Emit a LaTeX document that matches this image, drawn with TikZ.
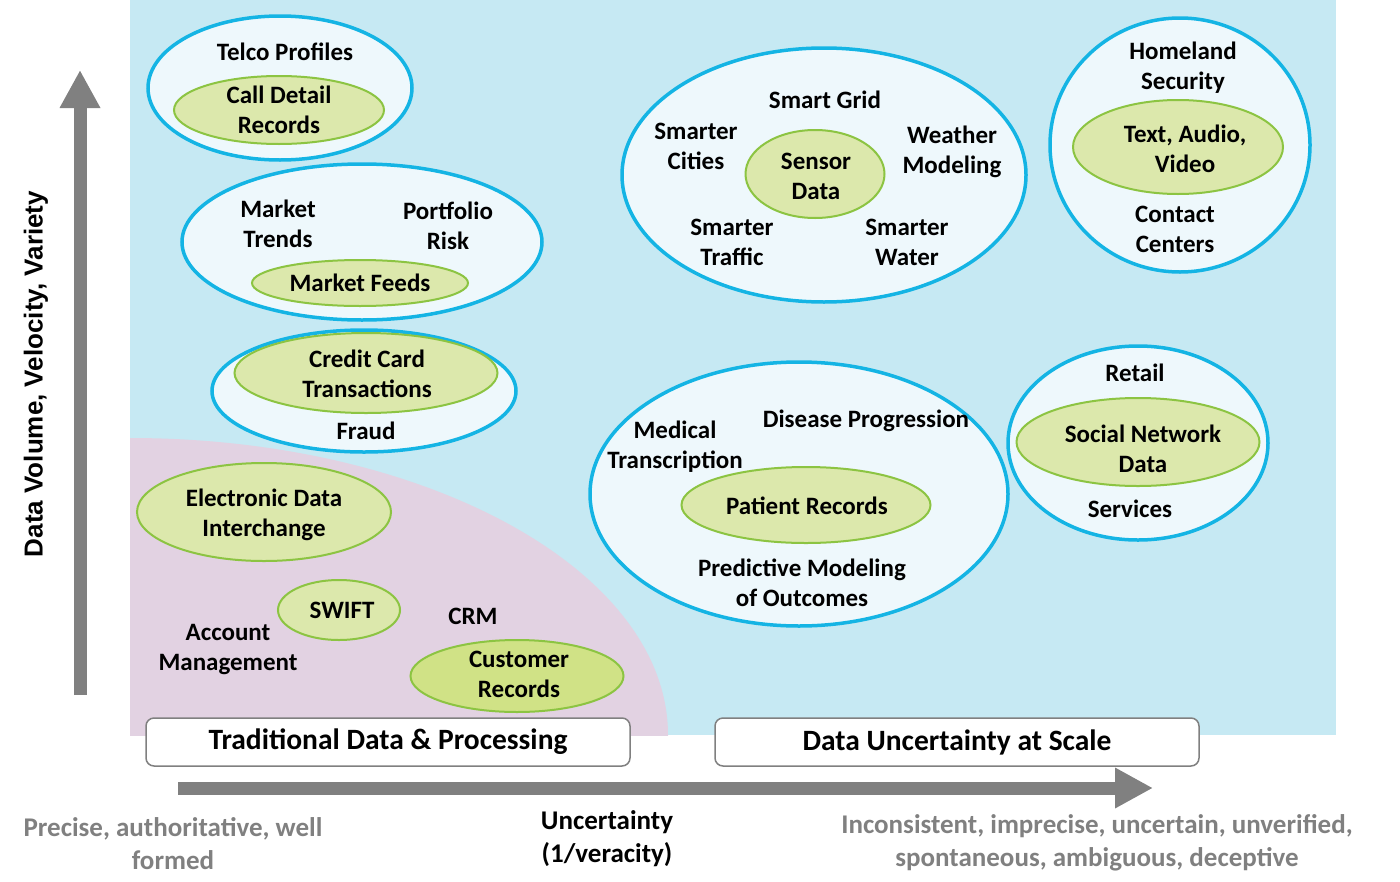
\documentclass[tikz,border=0pt]{standalone}
\usepackage{fontspec}
\setmainfont{Carlito}
\newfontfamily\axisfont{Liberation Sans}
\usetikzlibrary{arrows.meta, shapes.geometric}

\definecolor{skybg}{RGB}{198,233,243}
\definecolor{pinkbg}{RGB}{226,210,226}
\definecolor{zoneblue}{RGB}{20,180,228}
\definecolor{zonefill}{RGB}{238,248,252}
\definecolor{coregreen}{RGB}{140,196,66}
\definecolor{corefill}{RGB}{220,232,172}
\definecolor{corefilldark}{RGB}{208,226,134}
\definecolor{axisgray}{RGB}{128,128,128}

\begin{document}
\begin{tikzpicture}[
                x=1pt, y=-1pt,
                font=\fontsize{25}{30}\selectfont\bfseries,
                zone/.style={ellipse, draw=zoneblue, line width=3.5pt, fill=zonefill, inner sep=0pt},
                core/.style={ellipse, draw=coregreen, line width=2pt, fill=corefill, inner sep=0pt},
                lbl/.style={align=center, inner sep=0pt},
                band/.style={draw=axisgray, line width=1.5pt, rounded corners=8pt, fill=white, minimum width=484pt, minimum height=48pt, font=\fontsize{29.5}{34}\selectfont\bfseries},
                axis/.style={axisgray, line width=13pt, -{Triangle[length=38pt, width=38pt]}},
                note/.style={align=center, inner sep=0pt, text=axisgray, font=\fontsize{27}{33}\selectfont\bfseries}
            ]
                \useasboundingbox (0,0) rectangle (1400,881);
                % backgrounds
                \fill[skybg] (130,0) rectangle (1336,735);
                \begin{scope}
                    \clip (130,0) rectangle (1336,735);
                    \fill[pinkbg] (130,735) ellipse [x radius=538, y radius=297];
                \end{scope}

                % axes
                \coordinate (ylow) at (80,695);
                \coordinate (yhigh) at (80,70);
                \coordinate (xlow) at (178,788);
                \coordinate (xhigh) at (1153,788);
                \draw[axis] (ylow) -- (yhigh);
                \draw[axis] (xlow) -- (xhigh);
                \node[rotate=90, font=\axisfont\fontsize{26}{30}\selectfont\bfseries] (ylabel) at (36,374) {Data Volume, Velocity, Variety};

                % telco
                \node[zone, minimum width=264pt, minimum height=144pt] (telco) at (280,88) {};
                \node[core, minimum width=210pt, minimum height=68pt] (cdr) at (279,110) {};
                \node[lbl] (telcolbl) at (285,52) {Telco Profiles};
                \node[lbl] (cdrlbl) at (cdr) {Call Detail\\Records};

                % market
                \node[zone, minimum width=360pt, minimum height=156pt] (market) at (362,242) {};
                \node[core, minimum width=216pt, minimum height=46pt] (feeds) at (360,283) {};
                \node[lbl] (trends) at (278,224) {Market\\Trends};
                \node[lbl] (risk) at (448,226) {Portfolio\\Risk};
                \node[lbl] (feedslbl) at (feeds) {Market Feeds};

                % fraud
                \node[zone, minimum width=304pt, minimum height=122pt] (fraud) at (364,391) {};
                \node[core, minimum width=263pt, minimum height=80pt] (credit) at (366,373) {};
                \node[lbl] (creditlbl) at (367,374) {Credit Card\\Transactions};
                \node[lbl] (fraudlbl) at (366,431) {Fraud};

                % traditional
                \node[core, minimum width=254pt, minimum height=98pt] (edi) at (264,512) {};
                \node[lbl] (edilbl) at (264,515) {Electronic Data\\Interchange};
                \node[core, minimum width=122pt, minimum height=60pt] (swift) at (339,610) {};
                \node[lbl] (swiftlbl) at (342,610) {SWIFT};
                \node[core, fill=corefilldark, minimum width=213pt, minimum height=72pt] (cust) at (517,676) {};
                \node[lbl] (custlbl) at (519,674) {Customer\\Records};
                \node[lbl] (account) at (228,650) {Account\\Management};
                \node[lbl] (crm) at (473,616) {CRM};

                % sensors
                \node[zone, minimum width=404pt, minimum height=254pt] (smart) at (824,175) {};
                \node[core, minimum width=139pt, minimum height=88pt] (sensor) at (815,174) {};
                \node[lbl] (sensorlbl) at (816,176) {Sensor\\Data};
                \node[lbl] (grid) at (825,100) {Smart Grid};
                \node[lbl] (cities) at (696,146) {Smarter\\Cities};
                \node[lbl] (weather) at (952,152) {Weather\\Modeling};
                \node[lbl] (traffic) at (732,242) {Smarter\\Traffic};
                \node[lbl] (water) at (907,242) {Smarter\\Water};

                % homeland
                \node[zone, minimum width=260pt, minimum height=254pt] (homeland) at (1180,145) {};
                \node[core, minimum width=210pt, minimum height=94pt] (media) at (1178,147) {};
                \node[lbl] (medialbl) at (1185,149) {Text, Audio,\\Video};
                \node[lbl] (security) at (1183,68) {Homeland\\Security};
                \node[lbl] (contact) at (1175,229) {Contact\\Centers};

                % medical
                \node[zone, minimum width=418pt, minimum height=264pt] (medical) at (799,494) {};
                \node[core, minimum width=249pt, minimum height=76pt] (patient) at (806,505) {};
                \node[lbl] (patientlbl) at (807,506) {Patient Records};
                \node[lbl] (transcr) at (675,447) {Medical\\Transcription};
                \node[lbl] (disease) at (866,421) {Disease Progression};
                \node[lbl] (predict) at (802,583) {Predictive Modeling\\of Outcomes};

                % retail
                \node[zone, minimum width=260pt, minimum height=194pt] (retail) at (1138,443) {};
                \node[core, minimum width=243pt, minimum height=88pt] (social) at (1138,442) {};
                \node[lbl] (sociallbl) at (1143,449) {Social Network\\Data};
                \node[lbl] (retaillbl) at (1135,373) {Retail};
                \node[lbl] (services) at (1130,509) {Services};

                % bands and notes
                \node[band] (trad) at (388,742) {Traditional Data \& Processing};
                \node[band] (scale) at (957,742) {Data Uncertainty at Scale};
                \node[note] (precise) at (173,844) {Precise, authoritative, well\\formed};
                \node[note, text=black] (uncert) at (607,839) {Uncertainty\\(1/veracity)};
                \node[note] (incons) at (1097,843) {Inconsistent, imprecise, uncertain, unverified,\\spontaneous, ambiguous, deceptive};
            \end{tikzpicture}
\end{document}
